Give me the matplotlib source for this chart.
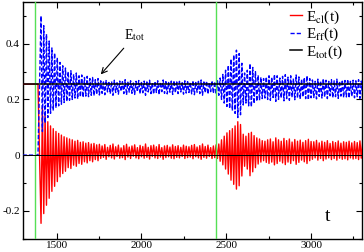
import numpy as np
import matplotlib
matplotlib.use("Agg")
import matplotlib.pyplot as plt
from matplotlib.ticker import MultipleLocator

plt.rcParams['font.family'] = 'serif'
plt.rcParams['font.serif'] = ['Liberation Serif', 'DejaVu Serif']
plt.rcParams['mathtext.fontset'] = 'stix'

# total energy and switching times
e_tot = 0.255
t_on = [1372, 2440]

# E_cl before the field is switched on
t_pre = [1300, 1390]
cl_pre = [0.255, 0.255]

# oscillation extremes of E_cl (troughs, then peaks 8 later), one pair every 16 time units from 1408
cl_lo = [-0.245, -0.21, -0.18, -0.155, -0.13, -0.112, -0.095, -0.078, -0.066, -0.058,
         -0.045, -0.048, -0.036, -0.04, -0.03, -0.033, -0.024, -0.028, -0.02, -0.024,
         -0.016, -0.02,
         -0.012, -0.008, -0.015, -0.006, -0.010, -0.014, -0.005, -0.011, -0.009, -0.016,
         -0.007, -0.012, -0.004, -0.010, -0.013, -0.006, -0.011, -0.008, -0.014, -0.005,
         -0.010, -0.012, -0.007, -0.015, -0.009, -0.006, -0.011, -0.013, -0.008, -0.010,
         -0.005, -0.012, -0.009, -0.007, -0.013, -0.006, -0.010, -0.015, -0.008, -0.011,
         -0.005, -0.012, -0.009,
         -0.012, -0.022, -0.035, -0.05, -0.068, -0.09, -0.105, -0.122, -0.11, -0.075,
         -0.04, -0.05, -0.074, -0.06, -0.045, -0.032,
         -0.025, -0.02, -0.026, -0.03, -0.025, -0.035, -0.03, -0.022, -0.028, -0.034,
         -0.025, -0.03, -0.02, -0.033, -0.026, -0.018, -0.024, -0.03, -0.02,
         -0.015, -0.01, -0.018, -0.012, -0.02, -0.014, -0.01, -0.016, -0.012, -0.018,
         -0.011, -0.015, -0.013, -0.017, -0.01, -0.014, -0.012, -0.016, -0.011]
cl_hi = [0.17, 0.14, 0.12, 0.105, 0.095, 0.085, 0.078, 0.072, 0.066, 0.062,
         0.058, 0.055, 0.05, 0.053, 0.046, 0.048, 0.043, 0.045, 0.04, 0.042,
         0.037, 0.039,
         0.033, 0.038, 0.028, 0.035, 0.040, 0.030, 0.036, 0.026, 0.034, 0.039,
         0.029, 0.033, 0.037, 0.027, 0.035, 0.031, 0.040, 0.028, 0.034, 0.036,
         0.030, 0.038, 0.027, 0.033, 0.035, 0.029, 0.037, 0.031, 0.034, 0.028,
         0.036, 0.032, 0.030, 0.035, 0.038, 0.029, 0.034, 0.040, 0.031, 0.036,
         0.027, 0.033, 0.037,
         0.04, 0.055, 0.068, 0.08, 0.088, 0.095, 0.105, 0.12, 0.11, 0.075,
         0.068, 0.078, 0.082, 0.07, 0.062, 0.058,
         0.052, 0.05, 0.055, 0.058, 0.048, 0.062, 0.055, 0.05, 0.06, 0.052,
         0.058, 0.047, 0.056, 0.05, 0.054, 0.046, 0.052, 0.057, 0.049,
         0.048, 0.053, 0.044, 0.05, 0.046, 0.052, 0.042, 0.049, 0.045, 0.051,
         0.043, 0.048, 0.046, 0.05, 0.044, 0.049, 0.045, 0.051, 0.047]

xticks = [1500, 2000, 2500, 3000]
yticks = [-0.2, 0, 0.2, 0.4]
ytick_labels = ['-0.2', '0', '0.2', '0.4']

# build the series: interleave troughs and peaks
t_lo = 1408 + 16 * np.arange(len(cl_lo))
t_osc = np.column_stack([t_lo, t_lo + 8]).ravel()
cl_osc = np.column_stack([cl_lo, cl_hi]).ravel()
t = np.concatenate([t_pre, t_osc])
e_cl = np.concatenate([cl_pre, cl_osc])
e_ff = e_tot - e_cl

fig = plt.figure(figsize=(3.64, 2.52), dpi=100)
ax = fig.add_axes([0.0624, 0.053, 0.932, 0.939])

ax.plot(t, e_cl, color='red', lw=1.0, label=r'E$_{\rm cl}$(t)', zorder=3)
ax.plot(t, e_ff, color='blue', lw=1.0, dashes=(3, 1.5), label=r'E$_{\rm ff}$(t)', zorder=4)
ax.plot([1300, 3300], [e_tot, e_tot], color='black', lw=1.1,
        label=r'E$_{\rm tot}$(t)', zorder=6)
for tv in t_on:
    ax.axvline(tv, color='#55e055', lw=1.0, zorder=5)
ax.axhline(0, color='black', lw=0.7, zorder=6)

ax.set_xlim(1300, 3300)
ax.set_ylim(-0.3, 0.55)
ax.set_xticks(xticks)
ax.set_yticks(yticks)
ax.set_yticklabels(ytick_labels)
ax.xaxis.set_minor_locator(MultipleLocator(250))
ax.yaxis.set_minor_locator(MultipleLocator(0.1))
ax.tick_params(which='both', direction='in', top=True, right=True, labelsize=8, pad=2)
ax.tick_params(which='major', length=4, width=0.8)
ax.tick_params(which='minor', length=2.5, width=0.8)
for sp in ax.spines.values():
    sp.set_linewidth(1.0)

ax.annotate(r'E$_{\rm tot}$', xy=(1760, 0.29), xytext=(1900, 0.43),
            fontsize=10, va='center', ha='left',
            arrowprops=dict(arrowstyle='->', color='black', lw=0.8,
                            shrinkA=2, shrinkB=0))
ax.text(3100, -0.22, 't', fontsize=14, ha='center', va='center')

ax.legend(loc='upper right', bbox_to_anchor=(0.968, 1.005), frameon=False, fontsize=11,
          handlelength=0.8, handletextpad=0.25, labelspacing=0.0, borderaxespad=0.1)

fig.savefig('out.png', dpi=100)
